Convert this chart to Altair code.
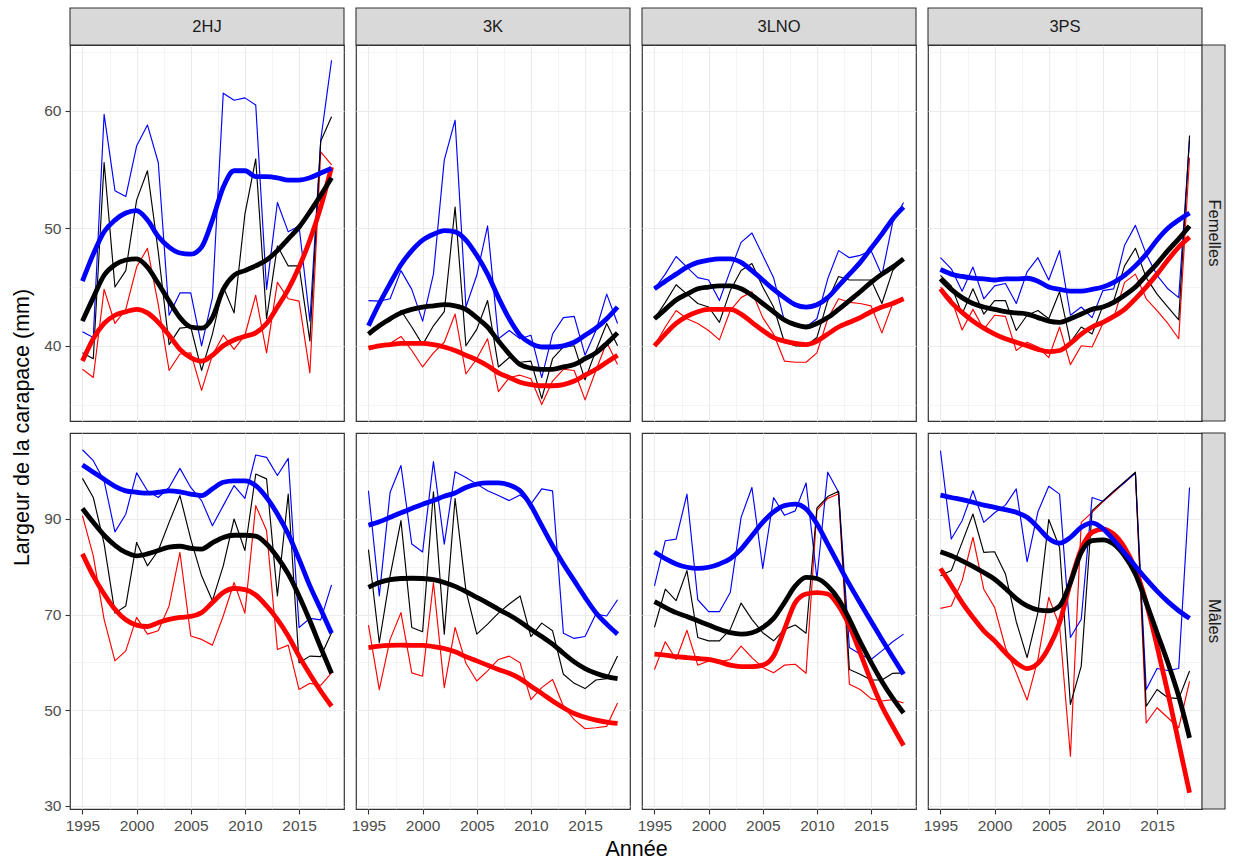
import altair as alt
import pandas as pd

annees = list(range(1995, 2019))
zones = ["2HJ", "3K", "3LNO", "3PS"]
sexes = ["Femelles", "Mâles"]
couleurs = {"bleu": "#0000FF", "noir": "#000000", "rouge": "#FF0000"}

# ---- Femelles : valeurs annuelles et courbes lissées ----
fem_2hj_bleu = [41.2, 40.7, 59.7, 53.2, 52.7, 57.0, 58.8, 55.6, 42.6, 44.5, 44.5, 40.0, 44.1, 61.5, 60.9, 61.1, 60.5, 44.8, 52.2, 49.7, 50.2, 42.1, 57.5, 64.3]
fem_2hj_noir = [39.4, 38.9, 55.6, 45.0, 46.4, 52.4, 54.9, 48.0, 40.1, 41.5, 41.6, 37.9, 41.0, 45.0, 42.8, 51.2, 55.9, 42.3, 48.5, 46.8, 46.8, 40.4, 57.4, 59.5]
fem_2hj_rouge = [38.0, 37.3, 44.8, 41.9, 43.1, 46.7, 48.3, 43.5, 37.9, 39.3, 39.4, 36.2, 39.2, 40.9, 39.7, 40.9, 44.3, 39.4, 45.4, 44.0, 43.8, 37.7, 56.5, 55.4]
fem_2hj_bleu_lisse = [45.5, 47.8, 49.7, 50.7, 51.3, 51.5, 50.7, 49.3, 48.4, 47.9, 47.8, 48.4, 50.7, 53.5, 54.9, 54.9, 54.4, 54.4, 54.3, 54.1, 54.1, 54.3, 54.7, 55.1]
fem_2hj_noir_lisse = [42.1, 44.1, 46.0, 46.9, 47.3, 47.4, 46.7, 45.3, 43.8, 42.4, 41.6, 41.5, 42.4, 44.8, 46.0, 46.4, 46.8, 47.3, 48.1, 49.1, 50.1, 51.4, 52.8, 54.3]
fem_2hj_rouge_lisse = [38.7, 40.6, 41.9, 42.6, 42.9, 43.1, 42.8, 42.0, 40.9, 39.7, 39.0, 38.7, 39.2, 40.0, 40.5, 40.8, 41.1, 41.9, 43.3, 44.8, 46.7, 49.0, 51.8, 55.2]

fem_3k_bleu = [43.85, 43.8, 44.0, 46.4, 44.8, 42.1, 46.1, 55.8, 59.2, 43.3, 46.0, 50.2, 40.6, 41.3, 40.6, 40.9, 37.3, 41.0, 42.4, 42.5, 39.2, 41.3, 44.4, 41.9]
fem_3k_noir = [41.0, 41.7, 42.1, 43.0, 41.6, 40.1, 41.7, 42.9, 51.8, 40.0, 41.4, 43.85, 38.2, 39.0, 38.6, 38.7, 35.5, 38.9, 39.9, 40.0, 37.1, 39.6, 41.9, 40.0]
fem_3k_rouge = [39.9, 39.9, 40.2, 40.8, 39.6, 38.2, 39.4, 40.3, 42.7, 37.6, 38.9, 40.6, 36.1, 37.3, 37.5, 37.2, 35.0, 37.0, 38.0, 37.9, 35.4, 37.9, 40.3, 38.4]
fem_3k_bleu_lisse = [41.7, 43.6, 45.3, 46.9, 48.1, 49.0, 49.5, 49.8, 49.7, 49.0, 47.7, 46.1, 44.1, 42.3, 40.9, 40.2, 39.9, 39.9, 40.0, 40.3, 40.9, 41.5, 42.3, 43.3]
fem_3k_noir_lisse = [41.0, 41.7, 42.3, 42.8, 43.1, 43.3, 43.4, 43.5, 43.4, 43.1, 42.4, 41.6, 40.4, 39.3, 38.4, 38.1, 38.0, 38.0, 38.2, 38.4, 38.9, 39.4, 40.2, 41.1]
fem_3k_rouge_lisse = [39.8, 40.0, 40.1, 40.2, 40.2, 40.2, 40.1, 39.9, 39.6, 39.2, 38.8, 38.3, 37.7, 37.3, 36.9, 36.7, 36.6, 36.6, 36.7, 37.0, 37.5, 38.0, 38.6, 39.2]

fem_3lno_bleu = [44.85, 46.1, 47.6, 46.7, 45.8, 45.6, 43.85, 46.4, 48.8, 49.6, 47.7, 45.8, 42.1, 41.7, 41.6, 42.3, 45.7, 48.1, 47.5, 47.7, 48.1, 46.0, 50.5, 52.2]
fem_3lno_noir = [42.3, 43.7, 45.2, 44.4, 43.6, 43.3, 42.0, 44.7, 46.4, 47.0, 45.0, 43.3, 40.3, 40.0, 40.0, 40.7, 43.85, 45.9, 45.6, 45.6, 45.6, 43.6, 46.4, 47.4]
fem_3lno_rouge = [40.0, 41.6, 43.0, 42.3, 41.9, 41.3, 40.5, 43.0, 44.1, 44.6, 42.4, 41.0, 38.7, 38.6, 38.6, 39.4, 42.3, 44.0, 43.7, 43.6, 43.4, 41.1, 43.6, 44.0]
fem_3lno_bleu_lisse = [44.85, 45.5, 46.1, 46.7, 47.1, 47.3, 47.4, 47.4, 47.1, 46.4, 45.6, 44.8, 44.1, 43.5, 43.3, 43.5, 44.1, 45.1, 46.1, 47.1, 48.3, 49.5, 50.8, 51.8]
fem_3lno_noir_lisse = [42.3, 43.1, 43.9, 44.4, 44.85, 45.0, 45.1, 45.1, 44.85, 44.3, 43.6, 42.9, 42.2, 41.8, 41.6, 41.9, 42.4, 43.1, 43.85, 44.6, 45.4, 46.1, 46.7, 47.4]
fem_3lno_rouge_lisse = [40.0, 41.0, 41.9, 42.5, 42.9, 43.1, 43.1, 43.1, 42.7, 42.0, 41.3, 40.7, 40.4, 40.2, 40.1, 40.4, 41.0, 41.6, 42.0, 42.4, 42.9, 43.3, 43.6, 44.0]

fem_3ps_bleu = [47.5, 46.55, 44.65, 46.7, 44.0, 45.1, 45.3, 43.6, 46.3, 47.5, 45.6, 48.1, 42.6, 43.3, 42.4, 44.7, 44.85, 48.55, 50.25, 47.8, 46.0, 44.85, 44.1, 57.5]
fem_3ps_noir = [46.0, 45.1, 42.7, 44.85, 42.7, 43.85, 43.85, 41.3, 42.6, 43.0, 42.3, 44.6, 40.3, 41.6, 41.0, 43.4, 43.85, 46.8, 48.3, 45.8, 44.4, 43.3, 42.2, 57.9]
fem_3ps_rouge = [45.0, 44.0, 41.35, 43.1, 41.4, 42.6, 42.5, 39.6, 40.3, 39.9, 39.0, 41.6, 38.4, 40.0, 39.9, 41.9, 42.4, 45.4, 46.1, 44.0, 43.0, 41.9, 40.6, 56.0]
fem_3ps_bleu_lisse = [46.5, 46.1, 45.9, 45.75, 45.7, 45.6, 45.7, 45.7, 45.75, 45.5, 45.0, 44.8, 44.65, 44.65, 44.8, 45.0, 45.4, 46.0, 46.8, 47.8, 49.0, 50.0, 50.7, 51.3]
fem_3ps_noir_lisse = [45.7, 44.8, 44.1, 43.6, 43.3, 43.1, 42.9, 42.8, 42.7, 42.4, 42.1, 42.0, 42.3, 42.7, 43.1, 43.3, 43.7, 44.3, 45.0, 46.0, 47.0, 48.1, 49.1, 50.2]
fem_3ps_rouge_lisse = [44.85, 43.7, 42.85, 42.1, 41.5, 41.0, 40.6, 40.3, 40.0, 39.7, 39.5, 39.6, 40.2, 41.0, 41.6, 42.0, 42.5, 43.1, 44.0, 45.0, 46.1, 47.3, 48.4, 49.25]

# ---- Mâles : valeurs annuelles et courbes lissées ----
mal_2hj_bleu = [104.5, 102.2, 98.0, 87.3, 91.0, 99.65, 95.9, 94.5, 96.6, 100.6, 96.6, 93.85, 88.6, 92.8, 97.0, 94.3, 103.4, 102.9, 99.1, 102.7, 67.3, 69.2, 68.9, 76.2]
mal_2hj_noir = [98.5, 94.5, 84.8, 70.3, 71.8, 85.1, 80.2, 83.4, 89.3, 94.9, 85.8, 78.1, 72.9, 80.2, 90.0, 83.4, 99.4, 98.4, 73.9, 95.2, 59.9, 61.3, 61.2, 66.2]
mal_2hj_rouge = [90.7, 82.3, 69.0, 60.3, 62.4, 69.4, 65.9, 66.6, 71.8, 83.0, 65.5, 64.8, 63.6, 69.7, 76.7, 70.3, 92.8, 87.6, 62.7, 63.6, 54.3, 55.6, 55.2, 57.8]
mal_2hj_bleu_lisse = [101.3, 99.8, 98.3, 96.85, 95.9, 95.6, 95.4, 95.6, 95.9, 95.7, 95.2, 94.9, 96.3, 97.7, 98.0, 98.0, 97.0, 94.5, 91.05, 86.85, 81.6, 76.0, 71.1, 66.1]
mal_2hj_noir_lisse = [92.2, 89.3, 86.6, 84.5, 83.0, 82.3, 82.7, 83.4, 84.1, 84.3, 83.85, 83.7, 85.0, 86.15, 86.6, 86.6, 86.4, 84.75, 82.0, 78.5, 73.9, 68.7, 63.1, 57.7]
mal_2hj_rouge_lisse = [82.7, 78.1, 74.3, 71.1, 68.9, 67.8, 67.5, 68.3, 69.0, 69.4, 69.6, 70.4, 72.5, 74.6, 75.45, 75.2, 74.1, 71.8, 69.0, 65.5, 61.3, 57.5, 54.0, 50.8]

mal_3k_bleu = [95.9, 73.9, 95.6, 101.2, 84.75, 83.1, 102.0, 84.75, 99.9, 98.7, 97.3, 95.9, 94.9, 93.85, 95.0, 93.1, 96.3, 95.9, 66.1, 65.0, 65.4, 70.1, 69.7, 73.1]
mal_3k_noir = [83.6, 64.1, 78.1, 89.65, 67.3, 66.4, 95.7, 65.9, 94.3, 75.0, 65.9, 68.0, 70.3, 72.2, 73.9, 65.4, 68.2, 66.6, 57.5, 55.6, 54.5, 56.3, 56.6, 61.3]
mal_3k_rouge = [67.8, 54.3, 64.8, 70.4, 57.8, 57.1, 76.7, 54.7, 67.3, 59.8, 56.1, 58.2, 60.6, 61.3, 59.9, 52.2, 54.7, 56.4, 50.8, 48.0, 46.1, 46.3, 46.6, 51.5]
mal_3k_bleu_lisse = [88.7, 89.4, 90.35, 91.3, 92.2, 93.1, 93.85, 94.75, 95.45, 96.6, 97.3, 97.55, 97.55, 97.1, 95.9, 92.8, 88.6, 84.4, 80.6, 77.1, 73.6, 70.4, 68.0, 65.9]
mal_3k_noir_lisse = [75.7, 76.7, 77.3, 77.55, 77.6, 77.55, 77.3, 76.7, 75.9, 74.8, 73.6, 72.4, 71.1, 69.9, 68.5, 66.9, 65.4, 63.8, 61.9, 60.1, 58.7, 57.7, 57.0, 56.6]
mal_3k_rouge_lisse = [63.1, 63.4, 63.55, 63.6, 63.55, 63.55, 63.3, 62.9, 62.2, 61.2, 60.3, 59.4, 58.5, 57.7, 56.6, 55.0, 53.5, 51.9, 50.5, 49.3, 48.5, 47.9, 47.5, 47.2]

mal_3lno_bleu = [76.0, 85.45, 85.8, 95.2, 73.1, 70.6, 70.6, 74.6, 90.35, 96.6, 79.65, 94.5, 90.8, 91.7, 97.55, 77.5, 99.8, 95.6, 63.1, 61.7, 60.6, 62.4, 64.3, 65.9]
mal_3lno_noir = [67.3, 75.3, 72.9, 79.2, 65.2, 64.5, 64.5, 66.9, 72.4, 69.0, 66.2, 64.5, 66.9, 67.8, 66.1, 92.3, 94.7, 95.8, 58.5, 57.5, 56.3, 56.3, 57.7, 57.8]
mal_3lno_rouge = [58.5, 64.3, 60.6, 66.7, 59.4, 60.3, 60.1, 60.6, 63.4, 61.0, 58.9, 57.8, 59.4, 59.6, 57.7, 91.8, 94.3, 95.3, 55.4, 54.3, 52.4, 51.9, 52.2, 51.5]
mal_3lno_bleu_lisse = [83.1, 81.7, 80.6, 79.9, 79.65, 79.9, 80.6, 81.7, 83.7, 86.5, 89.3, 91.5, 92.8, 93.1, 92.1, 89.0, 84.75, 80.5, 76.3, 72.4, 68.6, 64.8, 61.1, 57.5]
mal_3lno_noir_lisse = [72.7, 71.5, 70.4, 69.6, 68.7, 67.8, 66.9, 66.2, 65.9, 66.2, 67.3, 69.2, 72.5, 76.0, 77.8, 77.55, 76.0, 73.2, 69.0, 64.3, 60.0, 56.0, 52.5, 49.4]
mal_3lno_rouge_lisse = [61.7, 61.5, 61.2, 61.0, 60.8, 60.6, 60.1, 59.4, 59.1, 59.1, 59.4, 61.3, 66.9, 72.5, 74.3, 74.6, 74.3, 71.8, 67.6, 62.0, 56.1, 50.8, 46.6, 42.6]

mal_3ps_bleu = [104.3, 85.8, 89.65, 95.9, 89.3, 91.3, 92.9, 96.3, 81.05, 91.5, 96.85, 95.2, 65.2, 69.0, 94.5, 93.7, 95.8, 97.6, 99.6, 54.3, 58.7, 58.3, 58.7, 96.6]
mal_3ps_noir = [78.1, 79.2, 85.1, 91.05, 83.0, 83.15, 78.5, 68.5, 61.0, 70.4, 89.9, 84.05, 51.2, 59.2, 91.75, 93.8, 95.8, 97.8, 99.8, 50.8, 54.3, 52.6, 52.4, 58.2]
mal_3ps_rouge = [71.3, 71.8, 77.1, 86.15, 75.3, 71.5, 63.1, 57.8, 52.1, 60.6, 73.6, 67.6, 40.35, 89.3, 91.4, 93.6, 95.6, 97.6, 99.6, 47.3, 50.5, 48.4, 46.3, 56.0]
mal_3ps_bleu_lisse = [95.0, 94.5, 94.05, 93.5, 92.9, 92.45, 91.95, 91.4, 90.35, 88.25, 85.9, 84.95, 86.15, 88.25, 89.2, 88.0, 85.6, 82.9, 80.1, 77.4, 74.9, 72.7, 70.8, 69.2]
mal_3ps_noir_lisse = [83.15, 82.3, 81.25, 80.1, 78.8, 77.4, 75.45, 73.35, 71.8, 71.0, 70.8, 71.8, 76.7, 83.0, 85.45, 85.65, 84.75, 82.3, 78.5, 72.5, 66.2, 59.9, 52.9, 44.2]
mal_3ps_rouge_lisse = [79.65, 76.15, 72.5, 69.4, 66.6, 64.5, 62.0, 59.9, 58.7, 59.8, 63.1, 68.3, 76.7, 83.7, 87.2, 87.9, 86.85, 84.05, 79.5, 72.5, 63.4, 53.6, 43.15, 32.7]

g = globals()
prefixes = {"Femelles": "fem", "Mâles": "mal"}

# Axis ranges and tick positions (major ticks carry labels, the others are minor grid lines)
x_domaine = [1993.85, 2019.15]
x_ticks = [1995, 1997.5, 2000, 2002.5, 2005, 2007.5, 2010, 2012.5, 2015, 2017.5]
x_majeurs = [1995, 2000, 2005, 2010, 2015]
y_domaine = {"Femelles": [33.6, 65.6], "Mâles": [29.3, 108.0]}
y_ticks = {"Femelles": [35, 40, 45, 50, 55, 60, 65], "Mâles": [30, 40, 50, 60, 70, 80, 90, 100]}
y_majeurs = {"Femelles": [40, 50, 60], "Mâles": [30, 50, 70, 90]}

W, H = 274, 376        # panel size
SH, SW = 37, 23        # strip thickness (top, right)
GAP = 12
FONT = "Liberation Sans"
GRID = "#EBEBEB"
TITLE_SIZE = 21.5
STRIP_SIZE = 16.5


def cond(majeurs, v_major, v_minor):
    test = "indexof([%s], datum.value) >= 0" % ",".join(str(m) for m in majeurs)
    return {"condition": {"test": test, "value": v_major}, "value": v_minor}


def label_expr(majeurs):
    return "indexof([%s], datum.value) >= 0 ? format(datum.value, 'd') : ''" % ",".join(str(m) for m in majeurs)


def make_axis(ticks, majeurs, show, **extra):
    kw = dict(values=ticks, grid=True, gridColor=GRID,
              gridWidth=cond(majeurs, 1.1, 0.55), domain=False)
    if show:
        kw.update(labels=True, ticks=True, tickSize=5, tickColor="#333333",
                  tickWidth=1.1, tickOpacity=cond(majeurs, 1, 0),
                  labelExpr=label_expr(majeurs), labelColor="#4D4D4D",
                  labelFont=FONT, labelFontSize=15.5, labelPadding=4)
    else:
        kw.update(labels=False, ticks=False)
    kw.update(extra)
    return alt.Axis(**kw)


def panel(sexe, zone, col, row):
    pre = prefixes[sexe] + "_" + zone.lower()
    bas = row == 1
    gauche = col == 0

    x_extra = {}
    if bas and gauche:
        x_extra = dict(title="Année", titleFont=FONT, titleFontSize=TITLE_SIZE,
                       titleFontWeight="normal", titleColor="#000000",
                       titleX=(4 * W + 3 * GAP) / 2, titleY=40,
                       titleAnchor="middle", titleBaseline="middle")
    y_extra = {}
    if gauche and row == 0:
        y_extra = dict(title="Largeur de la carapace (mm)", titleFont=FONT,
                       titleFontSize=TITLE_SIZE, titleFontWeight="normal",
                       titleColor="#000000", titleAngle=270,
                       titleX=-48, titleY=H + GAP / 2,
                       titleAlign="center", titleBaseline="middle")
    x_axis = make_axis(x_ticks, x_majeurs, bas, **x_extra)
    y_axis = make_axis(y_ticks[sexe], y_majeurs[sexe], gauche, **y_extra)

    x_enc = alt.X("annee:Q", scale=alt.Scale(domain=x_domaine, nice=False, zero=False),
                  axis=x_axis, title=x_extra.get("title", None))
    y_enc = alt.Y("valeur:Q", scale=alt.Scale(domain=y_domaine[sexe], nice=False, zero=False),
                  axis=y_axis, title=y_extra.get("title", None))

    couches = []
    # raw annual lines, then the smoothed curves on top
    for nom in ["rouge", "bleu", "noir"]:
        df = pd.DataFrame({"annee": annees, "valeur": g[pre + "_" + nom]})
        couches.append(alt.Chart(df).mark_line(color=couleurs[nom], strokeWidth=1.15,
                                               strokeJoin="round").encode(x=x_enc, y=y_enc))
    for nom in ["rouge", "noir", "bleu"]:
        df = pd.DataFrame({"annee": annees, "valeur": g[pre + "_" + nom + "_lisse"]})
        couches.append(alt.Chart(df).mark_line(color=couleurs[nom], strokeWidth=4.8,
                                               interpolate="monotone",
                                               strokeJoin="round").encode(x=x_enc, y=y_enc))

    # strip above the top row
    if row == 0:
        s = pd.DataFrame({"lab": [zone]})
        couches.append(alt.Chart(s).mark_rect(fill="#D9D9D9", stroke="#333333", strokeWidth=1.1).encode(
            x=alt.value(0), x2=alt.value(W), y=alt.value(-SH), y2=alt.value(0)))
        couches.append(alt.Chart(s).mark_text(font=FONT, fontSize=STRIP_SIZE, color="#1A1A1A",
                                              align="center", baseline="middle").encode(
            x=alt.value(W / 2), y=alt.value(-SH / 2 + 0.5), text="lab:N"))
    # strip to the right of the last column
    if col == 3:
        s = pd.DataFrame({"lab": [sexe]})
        couches.append(alt.Chart(s).mark_rect(fill="#D9D9D9", stroke="#333333", strokeWidth=1.1).encode(
            x=alt.value(W), x2=alt.value(W + SW), y=alt.value(0), y2=alt.value(H)))
        couches.append(alt.Chart(s).mark_text(font=FONT, fontSize=STRIP_SIZE, color="#1A1A1A", angle=90,
                                              align="center", baseline="middle").encode(
            x=alt.value(W + SW / 2), y=alt.value(H / 2), text="lab:N"))

    return alt.layer(*couches).properties(width=W, height=H)


panneaux = [panel(sexe, zone, c, r) for r, sexe in enumerate(sexes) for c, zone in enumerate(zones)]

chart = alt.concat(*panneaux, columns=4, spacing=GAP, bounds="flush").properties(
    padding={"left": 10, "top": 6, "right": 8, "bottom": 2},
    background="white",
).configure_view(
    stroke="#333333", strokeWidth=1.2
)

chart.save("out.html", embed_options={"renderer": "svg", "actions": False})
